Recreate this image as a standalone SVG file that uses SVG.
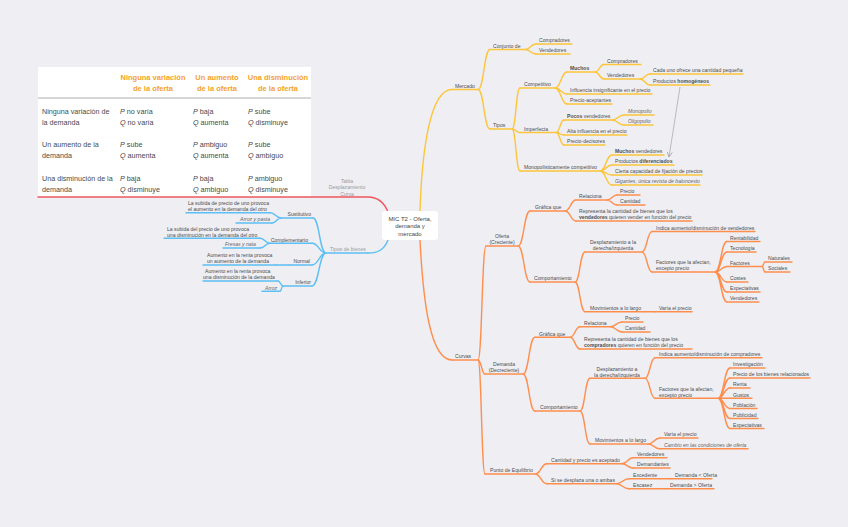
<svg xmlns="http://www.w3.org/2000/svg" width="848" height="527" viewBox="0 0 848 527">
<style>
.t{font-family:"Liberation Sans",Arial,sans-serif;font-size:5.1px;fill:#4d4d4d}
.i{font-style:italic;fill:#666}
.b{font-weight:bold}
.g{fill:#9a9a9a}
.c{text-anchor:middle}
.e{text-anchor:end}
.u,.k{fill:none;stroke-width:1.4;stroke-linecap:round}
.y{stroke:#FDC53A}
.o{stroke:#FF8E4D}
.bl{stroke:#5CBFF5}
.r{stroke:#F0575C}
.tb{font-family:"Liberation Sans",Arial,sans-serif;font-size:7.2px;fill:#4a4a4a}
.th{font-family:"Liberation Sans",Arial,sans-serif;font-size:7.5px;font-weight:bold;fill:#F5A22A;text-anchor:middle}
.pq{font-style:italic}
.cn{font-family:"Liberation Sans",Arial,sans-serif;font-size:6px;fill:#444;text-anchor:middle}
</style>
<defs>
<marker id="ah" markerWidth="6" markerHeight="6" refX="5" refY="3" orient="auto" markerUnits="userSpaceOnUse">
<path d="M0,0.5 L5,3 L0,5.5" fill="none" stroke="#999" stroke-width="0.7"/>
</marker>
</defs>
<rect width="848" height="527" fill="#EEEEF3"/>

<!-- table image -->
<g id="tabla">
<rect x="38" y="67" width="273" height="130" fill="#fff"/>
<text class="th" x="153" y="79.5">Ninguna variación</text>
<text class="th" x="153" y="91">de la oferta</text>
<text class="th" x="217" y="79.5">Un aumento</text>
<text class="th" x="217" y="91">de la oferta</text>
<text class="th" x="278" y="79.5">Una disminución</text>
<text class="th" x="278" y="91">de la oferta</text>
<path d="M38 98H311" stroke="#9a9a9a" stroke-width="0.8"/>
<text class="tb" x="42" y="113.7">Ninguna variación de</text>
<text class="tb" x="42" y="124.7">la demanda</text>
<text class="tb" x="120" y="113.7"><tspan class="pq">P</tspan> no varía</text>
<text class="tb" x="120" y="124.7"><tspan class="pq">Q</tspan> no varía</text>
<text class="tb" x="193" y="113.7"><tspan class="pq">P</tspan> baja</text>
<text class="tb" x="193" y="124.7"><tspan class="pq">Q</tspan> aumenta</text>
<text class="tb" x="248" y="113.7"><tspan class="pq">P</tspan> sube</text>
<text class="tb" x="248" y="124.7"><tspan class="pq">Q</tspan> disminuye</text>
<text class="tb" x="42" y="146.7">Un aumento de la</text>
<text class="tb" x="42" y="157.7">demanda</text>
<text class="tb" x="120" y="146.7"><tspan class="pq">P</tspan> sube</text>
<text class="tb" x="120" y="157.7"><tspan class="pq">Q</tspan> aumenta</text>
<text class="tb" x="193" y="146.7"><tspan class="pq">P</tspan> ambiguo</text>
<text class="tb" x="193" y="157.7"><tspan class="pq">Q</tspan> aumenta</text>
<text class="tb" x="248" y="146.7"><tspan class="pq">P</tspan> sube</text>
<text class="tb" x="248" y="157.7"><tspan class="pq">Q</tspan> ambiguo</text>
<text class="tb" x="42" y="180.7">Una disminución de la</text>
<text class="tb" x="42" y="191.7">demanda</text>
<text class="tb" x="120" y="180.7"><tspan class="pq">P</tspan> baja</text>
<text class="tb" x="120" y="191.7"><tspan class="pq">Q</tspan> disminuye</text>
<text class="tb" x="193" y="180.7"><tspan class="pq">P</tspan> baja</text>
<text class="tb" x="193" y="191.7"><tspan class="pq">Q</tspan> ambiguo</text>
<text class="tb" x="248" y="180.7"><tspan class="pq">P</tspan> ambiguo</text>
<text class="tb" x="248" y="191.7"><tspan class="pq">Q</tspan> disminuye</text>
</g>

<!-- connectors -->
<g id="connectors">
<path class="k r" stroke-width="1.6" d="M388 212C384 202 378 197 368 197L38 197"/>
<path class="k bl" stroke-width="1.6" d="M388 240C384 250 378 253 368 253"/>
<path class="k y" stroke-width="1.6" d="M420 211C422 150 430 89.5 452 89.5"/>
<path class="k o" stroke-width="1.6" d="M420 240C423 300 430 360 452 360"/>
<!-- yellow -->
<path class="k y" d="M478 89.5C484 89.5 484 49.5 490 49.5M478 89.5C484 89.5 484 129 490 129"/>
<path class="k y" d="M525 49.5C530.5 49.5 530.5 44 536 44M525 49.5C530.5 49.5 530.5 54 536 54"/>
<path class="k y" d="M512 129C516 129 516 88 520 88M512 129C516 129 516 132.5 520 132.5M512 129C516 129 516 171 520 171"/>
<path class="k y" d="M555 88C561 88 561 72 567 72M555 88C561 88 561 94 567 94M555 88C561 88 561 104 567 104"/>
<path class="k y" d="M595 72C599.5 72 599.5 64.5 604 64.5M595 72C599.5 72 599.5 79 604 79"/>
<path class="k y" d="M640 79C645 79 645 74 650 74M640 79C645 79 645 85 650 85"/>
<path class="k y" d="M556 132.5C560 132.5 560 120 564 120M556 132.5C560 132.5 560 135 564 135M556 132.5C560 132.5 560 145 564 145"/>
<path class="k y" d="M612 120C618 120 618 115 624 115M612 120C618 120 618 125 624 125"/>
<path class="k y" d="M600 171C606 171 606 155 612 155M600 171C606 171 606 165 612 165M600 171C606 171 606 175 612 175M600 171C606 171 606 185 612 185"/>
<!-- orange -->
<path class="k o" d="M478 360C482 360 482 246 486 246M478 360C481.5 360 481.5 374 485 374M478 360C481.5 360 481.5 474 485 474"/>
<path class="k o" d="M518 246C524 246 524 211 530 211M518 246C524 246 524 282 530 282"/>
<path class="k o" d="M565 211C570.5 211 570.5 200 576 200M565 211C570.5 211 570.5 221 576 221"/>
<path class="k o" d="M607 200C612 200 612 195 617 195M607 200C612 200 612 205 617 205"/>
<path class="k o" d="M575 282C580 282 580 252 585 252M575 282C580 282 580 311.7 585 311.7"/>
<path class="k o" d="M642 252C647 252 647 231.5 652 231.5M642 252C647 252 647 272 652 272"/>
<path class="k o" d="M715 272C721 272 721 241.5 727 241.5M715 272C721 272 721 252 727 252M715 272C721 272 721 266.5 727 266.5M715 272C721 272 721 282 727 282M715 272C721 272 721 292 727 292M715 272C721 272 721 302 727 302"/>
<path class="k o" d="M762 266.5C763.5 266.5 763.5 262 765 262M762 266.5C763.5 266.5 763.5 272 765 272"/>
<path class="k o" d="M645 311.7H655"/>
<path class="k o" d="M523 374C529 374 529 337.3 535 337.3M523 374C529 374 529 411 535 411"/>
<path class="k o" d="M570 337.3C575 337.3 575 326.7 580 326.7M570 337.3C575 337.3 575 349 580 349"/>
<path class="k o" d="M610 326.7C616 326.7 616 322 622 322M610 326.7C616 326.7 616 332 622 332"/>
<path class="k o" d="M580 411C585 411 585 378.3 590 378.3M580 411C585 411 585 444 590 444"/>
<path class="k o" d="M645 378.3C650 378.3 650 357.7 655 357.7M645 378.3C650 378.3 650 398.3 655 398.3"/>
<path class="k o" d="M718 398.3C724 398.3 724 368 730 368M718 398.3C724 398.3 724 378 730 378M718 398.3C724 398.3 724 388 730 388M718 398.3H730M718 398.3C724 398.3 724 408.5 730 408.5M718 398.3C724 398.3 724 418.5 730 418.5M718 398.3C724 398.3 724 428.5 730 428.5"/>
<path class="k o" d="M648 444C654 444 654 438 660 438M648 444C654 444 654 448.7 660 448.7"/>
<path class="k o" d="M535 474C541 474 541 463.7 547 463.7M535 474C541 474 541 483.7 547 483.7"/>
<path class="k o" d="M622 463.7C627.5 463.7 627.5 457.7 633 457.7M622 463.7C627.5 463.7 627.5 468 633 468"/>
<path class="k o" d="M616 483.7C622.5 483.7 622.5 478.7 629 478.7M616 483.7C622.5 483.7 622.5 488.7 629 488.7"/>
<path class="k o" d="M660 478.7H670M656 488.7H666"/>
<!-- blue -->
<path class="k bl" d="M326 253C319.5 253 319.5 218 313 218M326 253C319 253 319 243.3 312 243.3M326 253C319 253 319 265 312 265M326 253C319 253 319 286 312 286"/>
<path class="k bl" d="M281 218C275.5 218 275.5 212.7 270 212.7M281 218C276.5 218 276.5 223 272 223"/>
<path class="k bl" d="M270 243.3C265 243.3 265 238.3 260 238.3M270 243.3C265 243.3 265 248 260 248"/>
<path class="k bl" d="M290 265H276"/>
<path class="k bl" d="M283 286C280.5 286 280.5 281 278 281M283 286C281.5 286 281.5 291.3 280 291.3"/>
<!-- relation arrow -->
<path d="M680 87L669 157" fill="none" stroke="#999" stroke-width="0.6" marker-end="url(#ah)"/>
</g>

<!-- central node -->
<g id="central">
<rect x="382" y="211" width="56" height="29" rx="3" fill="#fff"/>
<text class="cn" x="410" y="221">MIC T2 - Oferta,</text>
<text class="cn" x="410" y="228.2">demanda y</text>
<text class="cn" x="410" y="235.5">mercado</text>
</g>

<g id="n-tabla-label">
<text class="t g c" x="347" y="182.5">Tabla</text>
<text class="t g c" x="347" y="189">Desplazamiento</text>
<text class="t g c" x="347" y="195.5">Curva</text>
</g>

<!-- yellow nodes -->
<g id="n-mercado"><path class="u y" d="M452 89.5H478"/><text class="t" x="455" y="87.8">Mercado</text></g>
<g id="n-conjunto"><path class="u y" d="M490 49.5H525"/><text class="t" x="493" y="47.8">Conjunto de</text></g>
<g id="n-compradores1"><path class="u y" d="M536 44H572"/><text class="t" x="539" y="42.3">Compradores</text></g>
<g id="n-vendedores1"><path class="u y" d="M536 54H570"/><text class="t" x="539" y="52.3">Vendedores</text></g>
<g id="n-tipos"><path class="u y" d="M490 129H512"/><text class="t" x="493" y="127.3">Tipos</text></g>
<g id="n-competitivo"><path class="u y" d="M520 88H555"/><text class="t" x="524" y="86.3">Competitivo</text></g>
<g id="n-muchos"><path class="u y" d="M567 72H595"/><text class="t b" x="570" y="70.3">Muchos</text></g>
<g id="n-compradores2"><path class="u y" d="M604 64.5H641"/><text class="t" x="607" y="62.8">Compradores</text></g>
<g id="n-vendedores2"><path class="u y" d="M604 79H640"/><text class="t" x="607" y="77.3">Vendedores</text></g>
<g id="n-cadauno"><path class="u y" d="M650 74H743"/><text class="t" x="653" y="72.3">Cada uno ofrece una cantidad pequeña</text></g>
<g id="n-homogeneos"><path class="u y" d="M650 85H710"/><text class="t" x="653" y="83.3">Productos <tspan class="b">homogéneos</tspan></text></g>
<g id="n-influencia"><path class="u y" d="M567 94H652"/><text class="t" x="570" y="92.3">Influencia insignificante en el precio</text></g>
<g id="n-aceptantes"><path class="u y" d="M567 104H612"/><text class="t" x="570" y="102.3">Precio-aceptantes</text></g>
<g id="n-imperfecta"><path class="u y" d="M520 132.5H556"/><text class="t" x="524" y="130.8">Imperfecta</text></g>
<g id="n-pocos"><path class="u y" d="M564 120H612"/><text class="t" x="567" y="118.3"><tspan class="b">Pocos</tspan> vendedores</text></g>
<g id="n-monopolio"><path class="u y" d="M624 115H654"/><text class="t i" x="628" y="113.3">Monopolio</text></g>
<g id="n-oligopolio"><path class="u y" d="M624 125H653"/><text class="t i" x="628" y="123.3">Oligopolio</text></g>
<g id="n-alta"><path class="u y" d="M564 135H627"/><text class="t" x="567" y="133.3">Alta influencia en el precio</text></g>
<g id="n-decisores"><path class="u y" d="M564 145H605"/><text class="t" x="567" y="143.3">Precio-decisores</text></g>
<g id="n-monopolistica"><path class="u y" d="M520 171H600"/><text class="t" x="524" y="169.3">Monopolísticamente competitivo</text></g>
<g id="n-muchosv"><path class="u y" d="M612 155H664"/><text class="t" x="615" y="153.3"><tspan class="b">Muchos</tspan> vendedores</text></g>
<g id="n-diferenciados"><path class="u y" d="M612 165H674"/><text class="t" x="615" y="163.3">Productos <tspan class="b">diferenciados</tspan></text></g>
<g id="n-cierta"><path class="u y" d="M612 175H702"/><text class="t" x="615" y="173.3">Cierta capacidad de fijación de precios</text></g>
<g id="n-gigantes"><path class="u y" d="M612 185H700"/><text class="t i" x="615" y="183.3">Gigantes, única revista de baloncesto</text></g>

<!-- orange nodes -->
<g id="n-curvas"><path class="u o" d="M452 360H478"/><text class="t" x="455" y="358.3">Curvas</text></g>
<g id="n-oferta"><path class="u o" d="M486 246H518"/><text class="t c" x="502" y="238.1">Oferta</text><text class="t c" x="502" y="244.4">(Creciente)</text></g>
<g id="n-graficaO"><path class="u o" d="M530 211H565"/><text class="t" x="535" y="209.3">Gráfica que</text></g>
<g id="n-relacionaO"><path class="u o" d="M576 200H607"/><text class="t" x="579" y="198.3">Relaciona</text></g>
<g id="n-precioO"><path class="u o" d="M617 195H640"/><text class="t" x="620" y="193.3">Precio</text></g>
<g id="n-cantidadO"><path class="u o" d="M617 205H645"/><text class="t" x="620" y="203.3">Cantidad</text></g>
<g id="n-representaO"><path class="u o" d="M576 221H692"/><text class="t" x="579" y="213">Representa la cantidad de bienes que los</text><text class="t" x="579" y="219.3"><tspan class="b">vendedores</tspan> quieren vender en función del precio</text></g>
<g id="n-comportO"><path class="u o" d="M530 282H575"/><text class="t" x="534" y="280.3">Comportamiento</text></g>
<g id="n-desplazO"><path class="u o" d="M585 252H642"/><text class="t c" x="613" y="244">Desplazamiento a la</text><text class="t c" x="613" y="250.3">derecha/izquierda</text></g>
<g id="n-indicaO"><path class="u o" d="M652 231.5H755"/><text class="t" x="656" y="229.8">Indica aumento/disminución de vendedores</text></g>
<g id="n-factoresO"><path class="u o" d="M652 272H715"/><text class="t" x="656" y="264.2">Factores que la afectan,</text><text class="t" x="656" y="270.3">excepto precio</text></g>
<g id="n-rentabilidad"><path class="u o" d="M727 241.5H760"/><text class="t" x="730" y="239.8">Rentabilidad</text></g>
<g id="n-tecnologia"><path class="u o" d="M727 252H756"/><text class="t" x="730" y="250.3">Tecnología</text></g>
<g id="n-factores"><path class="u o" d="M727 266.5H762"/><text class="t" x="730" y="264.8">Factores</text></g>
<g id="n-naturales"><path class="u o" d="M765 262H792"/><text class="t" x="768" y="260.3">Naturales</text></g>
<g id="n-sociales"><path class="u o" d="M765 272H790"/><text class="t" x="768" y="270.3">Sociales</text></g>
<g id="n-costes"><path class="u o" d="M727 282H748"/><text class="t" x="730" y="280.3">Costes</text></g>
<g id="n-expectO"><path class="u o" d="M727 292H760"/><text class="t" x="730" y="290.3">Expectativas</text></g>
<g id="n-vendedoresO"><path class="u o" d="M727 302H759"/><text class="t" x="730" y="300.3">Vendedores</text></g>
<g id="n-movO"><path class="u o" d="M585 311.7H645"/><text class="t" x="590" y="310">Movimientos a lo largo</text></g>
<g id="n-variaO"><path class="u o" d="M655 311.7H692"/><text class="t" x="659" y="310">Varía el precio</text></g>
<g id="n-demanda"><path class="u o" d="M485 374H523"/><text class="t c" x="504" y="366">Demanda</text><text class="t c" x="504" y="372.4">(Decreciente)</text></g>
<g id="n-graficaD"><path class="u o" d="M535 337.3H570"/><text class="t" x="539" y="335.6">Gráfica que</text></g>
<g id="n-relacionaD"><path class="u o" d="M580 326.7H610"/><text class="t" x="584" y="325">Relaciona</text></g>
<g id="n-precioD"><path class="u o" d="M622 322H643"/><text class="t" x="625" y="320.3">Precio</text></g>
<g id="n-cantidadD"><path class="u o" d="M622 332H650"/><text class="t" x="625" y="330.3">Cantidad</text></g>
<g id="n-representaD"><path class="u o" d="M580 349H692"/><text class="t" x="584" y="341">Representa la cantidad de bienes que los</text><text class="t" x="584" y="347.3"><tspan class="b">compradores</tspan> quieren en función del precio</text></g>
<g id="n-comportD"><path class="u o" d="M535 411H580"/><text class="t" x="540" y="409.3">Comportamiento</text></g>
<g id="n-desplazD"><path class="u o" d="M590 378.3H645"/><text class="t c" x="617" y="370.5">Desplazamiento a</text><text class="t c" x="617" y="376.7">la derecha/izquierda</text></g>
<g id="n-indicaD"><path class="u o" d="M655 357.7H762"/><text class="t" x="659" y="356">Indica aumento/disminución de compradores</text></g>
<g id="n-factoresD"><path class="u o" d="M655 398.3H718"/><text class="t" x="659" y="390.5">Factores que la afectan,</text><text class="t" x="659" y="396.6">excepto precio</text></g>
<g id="n-investigacion"><path class="u o" d="M730 368H765"/><text class="t" x="733" y="366.3">Investigación</text></g>
<g id="n-preciobienes"><path class="u o" d="M730 378H810"/><text class="t" x="733" y="376.3">Precio de los bienes relacionados</text></g>
<g id="n-renta"><path class="u o" d="M730 388H750"/><text class="t" x="733" y="386.3">Renta</text></g>
<g id="n-gustos"><path class="u o" d="M730 398.3H752"/><text class="t" x="733" y="396.6">Gustos</text></g>
<g id="n-poblacion"><path class="u o" d="M730 408.5H757"/><text class="t" x="733" y="406.8">Población</text></g>
<g id="n-publicidad"><path class="u o" d="M730 418.5H758"/><text class="t" x="733" y="416.8">Publicidad</text></g>
<g id="n-expectD"><path class="u o" d="M730 428.5H764"/><text class="t" x="733" y="426.8">Expectativas</text></g>
<g id="n-movD"><path class="u o" d="M590 444H648"/><text class="t" x="595" y="442.3">Movimientos a lo largo</text></g>
<g id="n-variaD"><path class="u o" d="M660 438H698"/><text class="t" x="664" y="436.3">Varía el precio</text></g>
<g id="n-cambio"><path class="u o" d="M660 448.7H748"/><text class="t i" x="664" y="447">Cambio en las condiciones de oferta</text></g>
<g id="n-punto"><path class="u o" d="M485 474H535"/><text class="t" x="490" y="472.3">Punto de Equilibrio</text></g>
<g id="n-cantidadY"><path class="u o" d="M547 463.7H622"/><text class="t" x="551" y="462">Cantidad y precio es aceptado</text></g>
<g id="n-sise"><path class="u o" d="M547 483.7H616"/><text class="t" x="551" y="482">Si se desplaza una o ambas</text></g>
<g id="n-vendedoresE"><path class="u o" d="M633 457.7H667"/><text class="t" x="637" y="456">Vendedores</text></g>
<g id="n-demandantes"><path class="u o" d="M633 468H670"/><text class="t" x="637" y="466.3">Demandantes</text></g>
<g id="n-excedente"><path class="u o" d="M629 478.7H660"/><text class="t" x="633" y="477">Excedente</text></g>
<g id="n-demmenor"><path class="u o" d="M670 478.7H712"/><text class="t" x="675" y="477">Demanda &lt; Oferta</text></g>
<g id="n-escasez"><path class="u o" d="M629 488.7H656"/><text class="t" x="633" y="487">Escasez</text></g>
<g id="n-demmayor"><path class="u o" d="M666 488.7H714"/><text class="t" x="670" y="487">Demanda &gt; Oferta</text></g>

<!-- blue nodes -->
<g id="n-tiposbienes"><path class="u bl" d="M326 253H368"/><text class="t g" x="330" y="251.3">Tipos de bienes</text></g>
<g id="n-sustitutivo"><path class="u bl" d="M281 218H313"/><text class="t e" x="311" y="216.3">Sustitutivo</text></g>
<g id="n-sust1"><path class="u bl" d="M186 212.7H270"/><text class="t" x="188" y="205">La subida de precio de uno provoca</text><text class="t" x="188" y="211.1">el aumento en la demanda del otro</text></g>
<g id="n-arrozpasta"><path class="u bl" d="M236 223H272"/><text class="t i" x="240" y="221.3">Arroz y pasta</text></g>
<g id="n-complementario"><path class="u bl" d="M270 243.3H312"/><text class="t e" x="308" y="241.6">Complementario</text></g>
<g id="n-comp1"><path class="u bl" d="M164 238.3H260"/><text class="t" x="167" y="230.5">La subida del precio de uno provoca</text><text class="t" x="167" y="236.6">una disminución en la demanda del otro</text></g>
<g id="n-fresas"><path class="u bl" d="M223 248H260"/><text class="t i" x="225" y="246.3">Fresas y nata</text></g>
<g id="n-normal"><path class="u bl" d="M290 265H312"/><text class="t e" x="310" y="263.3">Normal</text></g>
<g id="n-normal1"><path class="u bl" d="M203 265H276"/><text class="t" x="207" y="257.3">Aumento en la renta provoca</text><text class="t" x="207" y="263.3">un aumento de la demanda</text></g>
<g id="n-inferior"><path class="u bl" d="M283 286H312"/><text class="t e" x="311" y="284.3">Inferior</text></g>
<g id="n-inferior1"><path class="u bl" d="M203 281H278"/><text class="t" x="205" y="273.3">Aumento en la renta provoca</text><text class="t" x="203" y="279.4">una disminución de la demanda</text></g>
<g id="n-arroz"><path class="u bl" d="M262 291.3H280"/><text class="t i" x="265" y="289.6">Arroz</text></g>
</svg>
